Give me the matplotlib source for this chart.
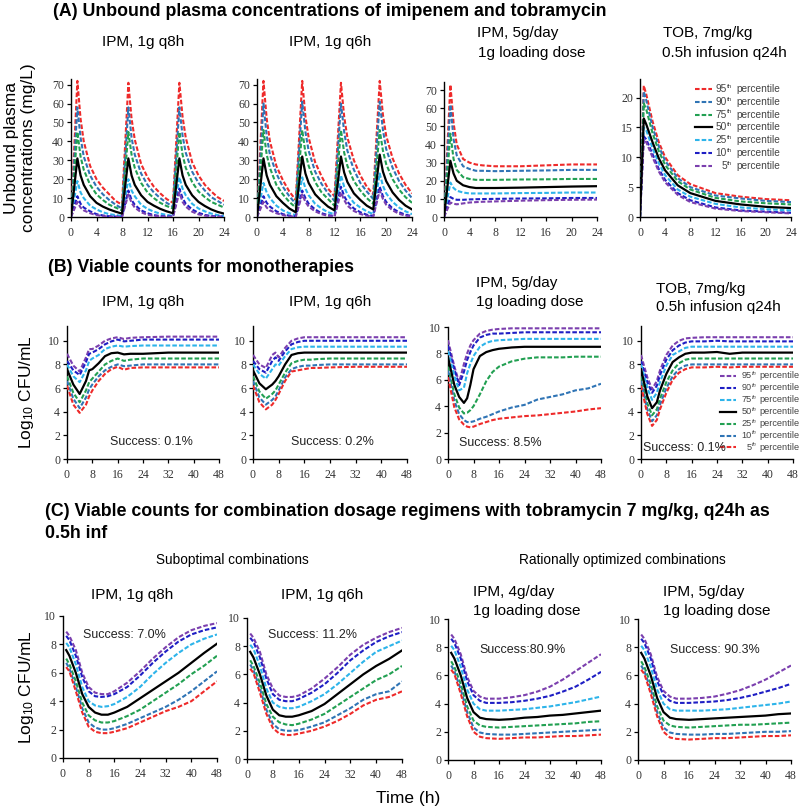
import numpy as np
import matplotlib
matplotlib.use('Agg')
import matplotlib.pyplot as plt
from matplotlib.lines import Line2D

plt.rcParams['font.family'] = ['Liberation Sans', 'DejaVu Sans']
plt.rcParams['mathtext.fontset'] = 'custom'
plt.rcParams['mathtext.rm'] = 'Liberation Sans'
plt.rcParams['mathtext.it'] = 'Liberation Sans:italic'

# ---------------- data ----------------
# (A) unbound plasma concentrations (mg/L), 95th ... 5th percentile
a1_t = [0, 1, 1.5, 2, 3, 4, 5, 6, 7,
        8, 9, 9.5, 10, 11, 12, 13, 14, 15,
        16, 17, 17.5, 18, 19, 20, 21, 22, 23, 24]
a1_p95 = [0, 72, 52, 40, 27, 20, 15.5, 12, 8.5,
          6.5, 71, 52, 41, 28, 21, 16, 12.5, 9.5,
          7.5, 71, 53, 42, 29, 22, 17, 13.5, 10.5, 8.5]
a1_p90 = [0, 58, 42, 32, 22, 16, 12, 9, 6.5,
          4.5, 58, 42, 33, 23, 17, 13, 10, 7.5,
          5.5, 58, 43, 34, 24, 18, 14, 10.5, 8.5, 6.5]
a1_p75 = [0, 45, 32, 25, 17, 12, 9, 6.5, 5,
          3.5, 45, 33, 26, 18, 13, 10, 7.5, 5.8,
          4.5, 45, 33, 26, 18.5, 13.5, 10.5, 8, 6.5, 5]
a1_p50 = [0, 31, 22, 17, 11, 7.5, 5.5, 4, 2.8,
          1.8, 31, 22, 17, 11.5, 8, 6, 4.3, 3,
          2, 31, 22, 17, 11.5, 8, 5.8, 4, 2.7, 1.8]
a1_p25 = [0, 19, 13, 10, 6, 4, 2.5, 1.5, 1,
          0.5, 20, 14, 11, 6.5, 4.3, 2.8, 1.8, 1.1,
          0.6, 21, 15, 11.5, 7, 4.5, 3, 1.8, 1, 0.5]
a1_p10 = [0, 11, 7, 5, 3, 1.5, 0.8, 0.4, 0.2,
          0.1, 14, 9, 6.5, 3.5, 2, 1, 0.5, 0.3,
          0.2, 15, 10, 7, 4, 2.2, 1.1, 0.5, 0.3, 0.2]
a1_p5 = [0, 8, 5, 3.5, 2, 1, 0.5, 0.2, 0.1,
         0, 12, 7.5, 5, 2.5, 1.2, 0.6, 0.3, 0.1,
         0.1, 13, 8, 5.5, 2.8, 1.4, 0.7, 0.3, 0.1, 0]

a2_t = [0, 1, 1.5, 2, 3, 4, 5,
        6, 7, 7.5, 8, 9, 10, 11,
        12, 13, 13.5, 14, 15, 16, 17,
        18, 19, 19.5, 20, 21, 22, 23, 24]
a2_p95 = [0, 72, 52, 40, 27, 19.5, 13.5,
          9, 72, 53, 42, 29, 21.5, 15,
          11, 71, 53, 42, 30, 22, 16,
          12, 72, 54, 43, 31, 23, 17, 12.5]
a2_p90 = [0, 60, 43, 33, 23, 16, 11,
          7, 61, 45, 35, 24, 17.5, 12.5,
          8.5, 60, 45, 35, 25, 18, 13.5,
          9.5, 61, 46, 36, 26, 19, 14, 10]
a2_p75 = [0, 46, 33, 26, 17, 12, 8,
          5, 46, 34, 27, 18.5, 13, 9.5,
          6, 46, 34, 27, 19, 14, 10,
          7, 46, 35, 28, 20, 14.5, 10.5, 7.5]
a2_p50 = [0, 31, 22, 17, 11, 7.5, 4.5,
          2.5, 32, 23, 18, 12, 8.5, 5.5,
          3.5, 32, 23.5, 18.5, 12.5, 9, 6,
          4, 33, 24, 19, 13, 9, 6, 4]
a2_p25 = [0, 18, 13, 10, 6, 3.5, 2,
          1, 21, 15, 11.5, 7, 4.5, 2.5,
          1.5, 22, 16, 12, 7.5, 5, 3,
          1.5, 23, 16.5, 12.5, 8, 5, 3, 1.5]
a2_p10 = [0, 11, 7.5, 5.5, 3, 1.5, 0.7,
          0.3, 14, 10, 7, 4, 2, 1,
          0.5, 16, 11, 8, 4.5, 2.5, 1.2,
          0.5, 16, 11, 8, 4.5, 2.5, 1.2, 0.5]
a2_p5 = [0, 8, 5, 3.5, 2, 1, 0.4,
         0.1, 12, 8, 5.5, 3, 1.5, 0.6,
         0.2, 13, 9, 6, 3.2, 1.6, 0.7,
         0.2, 14, 9.5, 6.5, 3.5, 1.7, 0.7, 0.2]

a3_t = [0, 1, 1.5, 2, 3, 4, 5, 6, 8, 12, 16, 20, 24]
a3_p95 = [0, 73, 52, 40, 32, 30, 29, 28.5, 28, 28, 28.5, 29, 29]
a3_p90 = [0, 62, 43, 34, 28, 26.5, 25.5, 25.5, 25.3, 25.5, 25.7, 26, 26]
a3_p75 = [0, 46, 32, 26, 22, 21, 20.5, 20.5, 20.5, 20.7, 20.8, 21, 21]
a3_p50 = [0, 31, 24, 20, 17.5, 16.5, 16, 16, 16, 16.2, 16.5, 16.8, 17]
a3_p25 = [0, 19, 16, 14.5, 13.5, 13, 13, 13, 13, 13.2, 13.3, 13.5, 13.5]
a3_p10 = [0, 11, 10, 9.5, 9.5, 9.7, 9.8, 9.9, 10, 10.2, 10.3, 10.5, 10.5]
a3_p5 = [0, 8, 7.3, 7, 7.5, 8, 8.2, 8.4, 8.6, 9, 9.3, 9.5, 9.6]

a4_t = [0, 0.6, 1, 2, 3, 4, 6, 8, 12, 16, 20, 24]
a4_p95 = [0, 22, 20.5, 16, 12.5, 10, 7, 5.5, 4, 3.4, 3.0, 2.8]
a4_p90 = [0, 21, 19.5, 15, 11.8, 9.4, 6.5, 5, 3.6, 3.1, 2.7, 2.5]
a4_p75 = [0, 19, 18, 14, 11, 8.7, 6, 4.6, 3.2, 2.6, 2.3, 2.1]
a4_p50 = [0, 16.5, 15.5, 12.5, 9.8, 7.8, 5.3, 4, 2.7, 2.1, 1.7, 1.5]
a4_p25 = [0, 15, 14.5, 11.5, 9, 7, 4.6, 3.4, 2.2, 1.6, 1.3, 1.1]
a4_p10 = [0, 13.5, 13, 10.5, 8, 6.2, 4, 2.8, 1.6, 1.1, 0.9, 0.7]
a4_p5 = [0, 13, 12.5, 10, 7.6, 5.8, 3.7, 2.5, 1.4, 1.0, 0.8, 0.6]

# (B) viable counts for monotherapies (log10 CFU/mL)
b1_t = [0, 2, 4, 6, 7, 8, 10, 12, 14, 16, 18, 20, 24, 32, 40, 48]
b1_p95 = [8.9, 7.9, 7.4, 8.6, 9.3, 9.3, 9.6, 10.0, 10.2, 10.3, 10.15, 10.25, 10.3, 10.35, 10.35, 10.35]
b1_p90 = [8.3, 7.5, 7.1, 8.2, 8.9, 9.0, 9.3, 9.7, 9.95, 10.1, 9.95, 10.0, 10.1, 10.1, 10.1, 10.1]
b1_p75 = [8.0, 7.0, 6.5, 7.5, 8.3, 8.5, 8.8, 9.3, 9.5, 9.6, 9.5, 9.55, 9.6, 9.6, 9.6, 9.6]
b1_p50 = [7.6, 6.3, 5.5, 6.6, 7.5, 7.6, 8.1, 8.7, 8.95, 9.0, 8.85, 8.9, 8.9, 9.0, 9.0, 9.0]
b1_p25 = [7.0, 5.6, 4.8, 5.8, 6.5, 6.8, 7.4, 8.0, 8.3, 8.5, 8.3, 8.4, 8.5, 8.5, 8.5, 8.5]
b1_p10 = [6.6, 5.1, 4.3, 5.2, 5.9, 6.3, 7.0, 7.5, 7.8, 8.0, 7.85, 7.9, 8.0, 8.0, 8.0, 8.0]
b1_p5 = [6.2, 4.6, 3.9, 4.6, 5.3, 5.8, 6.6, 7.2, 7.6, 7.8, 7.55, 7.7, 7.75, 7.75, 7.75, 7.75]

b2_t = [0, 2, 4, 6, 7, 8, 10, 12, 14, 16, 18, 20, 24, 32, 40, 48]
b2_p95 = [8.8, 8.0, 7.7, 8.8, 9.0, 8.6, 9.4, 10.0, 10.2, 10.3, 10.3, 10.3, 10.3, 10.3, 10.3, 10.3]
b2_p90 = [8.3, 7.6, 7.3, 8.3, 8.6, 8.3, 9.1, 9.7, 9.9, 10.0, 10.0, 10.0, 10.0, 10.0, 10.0, 10.0]
b2_p75 = [8.0, 7.2, 6.8, 7.6, 8.0, 7.9, 8.7, 9.3, 9.45, 9.5, 9.5, 9.5, 9.5, 9.5, 9.5, 9.5]
b2_p50 = [7.5, 6.4, 5.9, 6.3, 6.6, 7.0, 8.0, 8.8, 8.95, 9.0, 9.0, 9.0, 9.0, 9.0, 9.0, 9.0]
b2_p25 = [7.0, 5.7, 5.1, 5.5, 5.8, 6.3, 7.3, 8.1, 8.3, 8.4, 8.4, 8.45, 8.5, 8.5, 8.5, 8.5]
b2_p10 = [6.6, 5.2, 4.6, 5.0, 5.3, 5.8, 6.9, 7.6, 7.8, 7.9, 7.9, 7.95, 8.0, 8.0, 8.0, 8.0]
b2_p5 = [6.2, 4.8, 4.2, 4.6, 5.0, 5.5, 6.6, 7.4, 7.5, 7.6, 7.7, 7.7, 7.75, 7.8, 7.8, 7.8]

b3_t = [0, 2, 3.5, 5, 6, 7, 8, 10, 12, 14, 16, 20, 24, 28, 32, 36, 40, 44, 48]
b3_p95 = [9.0, 7.0, 5.8, 7.2, 8.0, 8.6, 9.0, 9.5, 9.7, 9.8, 9.85, 9.9, 9.9, 9.9, 9.9, 9.9, 9.9, 9.9, 9.9]
b3_p90 = [8.6, 6.8, 5.6, 6.6, 7.5, 8.1, 8.6, 9.2, 9.4, 9.5, 9.5, 9.55, 9.6, 9.6, 9.6, 9.6, 9.6, 9.6, 9.6]
b3_p75 = [8.2, 6.3, 5.2, 5.4, 6.5, 7.2, 7.8, 8.5, 8.8, 8.95, 9.0, 9.05, 9.1, 9.1, 9.1, 9.1, 9.1, 9.1, 9.1]
b3_p50 = [7.7, 5.6, 4.7, 4.25, 4.6, 5.6, 6.8, 7.8, 8.1, 8.25, 8.35, 8.45, 8.5, 8.5, 8.5, 8.5, 8.5, 8.5, 8.5]
b3_p25 = [7.0, 4.9, 3.9, 3.45, 3.5, 3.7, 4.0, 4.9, 5.9, 6.6, 7.0, 7.4, 7.6, 7.7, 7.7, 7.7, 7.75, 7.75, 7.75]
b3_p10 = [6.7, 4.4, 3.4, 2.95, 2.8, 2.8, 2.85, 3.05, 3.2, 3.4, 3.6, 3.9, 4.1, 4.5, 4.7, 4.9, 5.2, 5.35, 5.7]
b3_p5 = [6.2, 3.9, 3.0, 2.6, 2.45, 2.4, 2.45, 2.65, 2.8, 2.95, 3.05, 3.15, 3.25, 3.3, 3.4, 3.5, 3.6, 3.75, 3.85]

b4_t = [0, 2, 3.5, 5, 6, 8, 10, 12, 14, 16, 20, 24, 28, 32, 40, 48]
b4_p95 = [8.8, 6.9, 5.9, 6.6, 7.5, 8.8, 9.6, 10.0, 10.2, 10.25, 10.3, 10.3, 10.3, 10.3, 10.3, 10.3]
b4_p90 = [8.3, 6.5, 5.6, 6.2, 7.1, 8.4, 9.2, 9.6, 9.85, 9.95, 9.95, 10.0, 9.95, 9.95, 9.95, 9.95]
b4_p75 = [8.0, 6.0, 5.0, 5.6, 6.5, 7.9, 8.8, 9.1, 9.4, 9.5, 9.5, 9.5, 9.5, 9.5, 9.5, 9.5]
b4_p50 = [7.6, 5.3, 4.3, 4.8, 5.8, 7.2, 8.2, 8.6, 8.9, 9.0, 9.0, 9.05, 8.9, 9.0, 9.0, 9.0]
b4_p25 = [7.0, 4.7, 3.7, 4.2, 5.1, 6.5, 7.5, 8.1, 8.4, 8.5, 8.5, 8.5, 8.5, 8.5, 8.5, 8.5]
b4_p10 = [6.6, 4.2, 3.2, 3.7, 4.6, 6.0, 7.0, 7.6, 7.9, 8.0, 8.0, 8.0, 8.0, 8.0, 8.0, 8.0]
b4_p5 = [6.2, 3.8, 2.8, 3.3, 4.2, 5.6, 6.7, 7.3, 7.6, 7.75, 7.75, 7.8, 7.75, 7.8, 7.8, 7.8]

# (C) viable counts for combinations (log10 CFU/mL)
c1_t = [1, 2, 4, 6, 8, 10, 12, 14, 16, 20, 24, 28, 32, 36, 40, 44, 48]
c1_p95 = [8.9, 8.6, 7.6, 6.0, 5.0, 4.6, 4.5, 4.5, 4.7, 5.3, 6.1, 7.0, 7.8, 8.5, 9.0, 9.3, 9.5]
c1_p90 = [8.6, 8.3, 7.2, 5.7, 4.7, 4.35, 4.3, 4.35, 4.5, 5.0, 5.8, 6.7, 7.5, 8.2, 8.7, 9.0, 9.2]
c1_p75 = [8.1, 7.8, 6.6, 5.0, 4.0, 3.7, 3.6, 3.65, 3.8, 4.3, 5.0, 5.9, 6.7, 7.4, 8.0, 8.4, 8.7]
c1_p50 = [7.6, 7.2, 6.0, 4.5, 3.6, 3.2, 3.05, 3.05, 3.2, 3.6, 4.2, 4.8, 5.4, 6.0, 6.7, 7.4, 8.05]
c1_p25 = [7.0, 6.6, 5.4, 3.9, 3.0, 2.65, 2.5, 2.5, 2.6, 2.95, 3.4, 4.0, 4.6, 5.2, 5.9, 6.5, 7.2]
c1_p10 = [6.7, 6.3, 5.0, 3.5, 2.5, 2.15, 2.0, 2.0, 2.1, 2.4, 2.8, 3.2, 3.6, 4.1, 4.7, 5.4, 6.1]
c1_p5 = [6.4, 6.1, 4.7, 3.2, 2.2, 1.85, 1.75, 1.75, 1.85, 2.1, 2.5, 2.9, 3.3, 3.6, 4.0, 4.7, 5.4]

c2_t = [1, 2, 4, 6, 8, 10, 12, 14, 16, 20, 24, 28, 32, 36, 40, 44, 48]
c2_p95 = [8.9, 8.6, 7.6, 6.0, 5.0, 4.5, 4.4, 4.4, 4.5, 5.0, 5.7, 6.5, 7.4, 8.1, 8.6, 9.0, 9.3]
c2_p90 = [8.6, 8.3, 7.2, 5.7, 4.6, 4.2, 4.1, 4.1, 4.25, 4.7, 5.3, 6.1, 7.0, 7.7, 8.3, 8.7, 9.0]
c2_p75 = [8.1, 7.8, 6.6, 5.0, 4.0, 3.7, 3.6, 3.6, 3.7, 4.1, 4.6, 5.3, 6.1, 6.9, 7.6, 8.0, 8.4]
c2_p50 = [7.6, 7.2, 6.0, 4.5, 3.5, 3.1, 3.0, 3.0, 3.1, 3.4, 3.9, 4.6, 5.3, 6.0, 6.6, 7.1, 7.7]
c2_p25 = [7.0, 6.6, 5.4, 3.9, 3.0, 2.6, 2.45, 2.4, 2.5, 2.8, 3.2, 3.8, 4.4, 5.0, 5.6, 6.0, 6.6]
c2_p10 = [6.7, 6.3, 5.0, 3.5, 2.5, 2.1, 2.0, 2.0, 2.05, 2.3, 2.6, 3.1, 3.6, 4.2, 4.6, 4.8, 5.5]
c2_p5 = [6.4, 6.1, 4.7, 3.2, 2.2, 1.8, 1.7, 1.7, 1.8, 2.0, 2.3, 2.7, 3.2, 3.8, 4.2, 4.4, 4.8]

c3_t = [1, 2, 4, 6, 8, 10, 12, 16, 20, 24, 28, 32, 36, 40, 44, 48]
c3_p95 = [8.9, 8.6, 7.5, 5.9, 4.9, 4.5, 4.35, 4.35, 4.45, 4.6, 4.85, 5.2, 5.7, 6.3, 6.9, 7.5]
c3_p90 = [8.6, 8.3, 7.2, 5.6, 4.6, 4.2, 4.05, 4.05, 4.1, 4.2, 4.35, 4.55, 4.85, 5.2, 5.7, 6.25]
c3_p75 = [8.1, 7.8, 6.6, 5.0, 4.0, 3.6, 3.5, 3.5, 3.55, 3.6, 3.7, 3.8, 3.95, 4.1, 4.3, 4.5]
c3_p50 = [7.6, 7.2, 6.0, 4.4, 3.4, 3.0, 2.9, 2.85, 2.9, 3.0, 3.05, 3.15, 3.2, 3.3, 3.4, 3.5]
c3_p25 = [7.0, 6.6, 5.4, 3.8, 2.8, 2.45, 2.35, 2.3, 2.35, 2.4, 2.45, 2.5, 2.55, 2.6, 2.7, 2.75]
c3_p10 = [6.7, 6.3, 5.0, 3.4, 2.3, 1.95, 1.85, 1.8, 1.8, 1.85, 1.9, 1.95, 2.0, 2.05, 2.1, 2.15]
c3_p5 = [6.4, 6.1, 4.7, 3.1, 2.0, 1.65, 1.55, 1.5, 1.55, 1.6, 1.6, 1.65, 1.7, 1.7, 1.75, 1.8]

c4_t = [1, 2, 4, 6, 8, 10, 12, 16, 20, 24, 28, 32, 36, 40, 44, 48]
c4_p95 = [8.9, 8.6, 7.5, 5.9, 4.9, 4.5, 4.35, 4.35, 4.4, 4.5, 4.7, 4.95, 5.3, 5.7, 6.2, 6.7]
c4_p90 = [8.6, 8.3, 7.2, 5.6, 4.6, 4.2, 4.05, 4.05, 4.1, 4.15, 4.25, 4.4, 4.6, 4.85, 5.1, 5.4]
c4_p75 = [8.1, 7.8, 6.6, 5.0, 4.0, 3.6, 3.5, 3.5, 3.5, 3.55, 3.6, 3.7, 3.8, 3.9, 4.0, 4.15]
c4_p50 = [7.6, 7.2, 6.0, 4.4, 3.4, 3.0, 2.9, 2.85, 2.9, 2.95, 3.0, 3.05, 3.1, 3.15, 3.25, 3.3]
c4_p25 = [7.0, 6.6, 5.4, 3.8, 2.8, 2.45, 2.35, 2.3, 2.35, 2.4, 2.45, 2.5, 2.5, 2.55, 2.6, 2.65]
c4_p10 = [6.7, 6.3, 5.0, 3.4, 2.3, 1.95, 1.85, 1.8, 1.8, 1.85, 1.85, 1.9, 1.95, 2.0, 2.0, 2.05]
c4_p5 = [6.4, 6.1, 4.7, 3.1, 2.0, 1.6, 1.5, 1.45, 1.5, 1.55, 1.55, 1.6, 1.65, 1.7, 1.7, 1.75]

percentiles = ['95', '90', '75', '50', '25', '10', '5']
success_b = ['Success: 0.1%', 'Success: 0.2%', 'Success: 8.5%', 'Success: 0.1%']
success_c = ['Success: 7.0%', 'Success: 11.2%', 'Success:80.9%', 'Success: 90.3%']

# ---------------- styling ----------------
RED = '#EE2A2A'
MIDBLUE = '#2F74B5'
GREEN = '#22A052'
CYAN = '#2DB4EA'
DKBLUE = '#1E1EC4'
PURPLE = '#7B3FAE'
colors_a = [RED, MIDBLUE, GREEN, 'black', CYAN, DKBLUE, PURPLE]
colors_bc = [PURPLE, DKBLUE, CYAN, 'black', GREEN, MIDBLUE, RED]
DASH = (2.2, 1.0)

W, H = 800, 811
fig = plt.figure(figsize=(W / 100, H / 100), dpi=100)


def px_axes(l, r, top, bottom):
    # axes rectangle given in pixel coordinates of the reference
    return fig.add_axes([l / W, 1 - bottom / H, (r - l) / W, (bottom - top) / H])


def ftext(x, y, s, **kw):
    kw.setdefault('va', 'center')
    fig.text(x / W, 1 - y / H, s, **kw)


def panel(ax, t, series, colors, xmax, xstep, ylim, ystep):
    for vals, col in zip(series, colors):
        if col == 'black':
            ax.plot(t, vals, color='black', lw=1.6, zorder=4)
        else:
            ax.plot(t, vals, color=col, lw=1.5, dashes=DASH, zorder=3)
    ax.set_xlim(0, xmax)
    ax.set_ylim(*ylim)
    ax.set_xticks(np.arange(0, xmax + 0.1, xstep))
    ax.set_yticks(np.arange(0, ylim[1] + 0.01, ystep))
    for s in ['top', 'right']:
        ax.spines[s].set_visible(False)
    for s in ['left', 'bottom']:
        ax.spines[s].set_linewidth(1.0)
    ax.tick_params(direction='out', length=3, width=0.9, labelsize=8.5,
                   labelcolor='#333333', pad=2, labelfontfamily='Liberation Serif')
    ax.tick_params(axis='x', pad=4)


def pct_legend(colors, italic_sup, x_h0, x_h1, x_num, x_word, y0, dy, size):
    # hand-placed legend: line sample, number, raised "th", then "percentile"
    for i, (p, col) in enumerate(zip(percentiles, colors)):
        y = y0 + i * dy
        yf = 1 - y / H
        if col == 'black':
            ln = Line2D([x_h0 / W, x_h1 / W], [yf, yf], color='black', lw=1.6,
                        transform=fig.transFigure)
        else:
            ln = Line2D([x_h0 / W, x_h1 / W], [yf, yf], color=col, lw=1.5, dashes=DASH,
                        transform=fig.transFigure)
        fig.add_artist(ln)
        ftext(x_num, y, p, ha='right', fontsize=size, color='#444444')
        ftext(x_num - 0.6, y - size * 0.38, 'th', ha='left', fontsize=size * 0.62,
              color='#444444', style='italic' if italic_sup else 'normal')
        ftext(x_word, y, 'percentile', ha='left', fontsize=size, color='#444444')


# ---- row A ----
a_data = [
    (a1_t, [a1_p95, a1_p90, a1_p75, a1_p50, a1_p25, a1_p10, a1_p5]),
    (a2_t, [a2_p95, a2_p90, a2_p75, a2_p50, a2_p25, a2_p10, a2_p5]),
    (a3_t, [a3_p95, a3_p90, a3_p75, a3_p50, a3_p25, a3_p10, a3_p5]),
    (a4_t, [a4_p95, a4_p90, a4_p75, a4_p50, a4_p25, a4_p10, a4_p5]),
]
a_rects = [(71, 224, 79, 217), (257, 412, 79, 217), (444, 597, 82, 217), (640, 791, 79, 217)]
a_ylims = [(0, 73), (0, 73), (0, 74.5), (0, 23.1)]
a_ysteps = [10, 10, 10, 5]
for i in range(4):
    ax = px_axes(*a_rects[i])
    panel(ax, a_data[i][0], a_data[i][1], colors_a, 24, 4, a_ylims[i], a_ysteps[i])
pct_legend(colors_a, False, 695, 712, 727, 736, 89, 12.8, 7.3)

# ---- row B ----
b_data = [
    (b1_t, [b1_p95, b1_p90, b1_p75, b1_p50, b1_p25, b1_p10, b1_p5]),
    (b2_t, [b2_p95, b2_p90, b2_p75, b2_p50, b2_p25, b2_p10, b2_p5]),
    (b3_t, [b3_p95, b3_p90, b3_p75, b3_p50, b3_p25, b3_p10, b3_p5]),
    (b4_t, [b4_p95, b4_p90, b4_p75, b4_p50, b4_p25, b4_p10, b4_p5]),
]
b_rects = [(67, 219, 326, 459), (253, 407, 326, 459), (448, 601, 327, 459), (641, 793, 326, 459)]
b_ylims = [(0, 11.25), (0, 11.25), (0, 10), (0, 11.25)]
b_success_xy = [(151, 442, 'center'), (332, 442, 'center'), (459, 443, 'left'), (643, 448, 'left')]
for i in range(4):
    ax = px_axes(*b_rects[i])
    panel(ax, b_data[i][0], b_data[i][1], colors_bc, 48, 8, b_ylims[i], 2)
    x, y, ha = b_success_xy[i]
    ftext(x, y, success_b[i], ha=ha, fontsize=9, color='#222222')
pct_legend(colors_bc, True, 720, 736, 752, 759, 376, 11.9, 6.6)

# ---- row C ----
c_data = [
    (c1_t, [c1_p95, c1_p90, c1_p75, c1_p50, c1_p25, c1_p10, c1_p5]),
    (c2_t, [c2_p95, c2_p90, c2_p75, c2_p50, c2_p25, c2_p10, c2_p5]),
    (c3_t, [c3_p95, c3_p90, c3_p75, c3_p50, c3_p25, c3_p10, c3_p5]),
    (c4_t, [c4_p95, c4_p90, c4_p75, c4_p50, c4_p25, c4_p10, c4_p5]),
]
c_rects = [(63, 217, 616, 758), (247, 402, 618, 759), (448, 601, 619, 760), (638, 791, 619, 760)]
c_success_xy = [(83, 635), (268, 635), (479, 650), (670, 650)]
for i in range(4):
    ax = px_axes(*c_rects[i])
    panel(ax, c_data[i][0], c_data[i][1], colors_bc, 48, 8, (0, 10), 2)
    x, y = c_success_xy[i]
    ftext(x, y, success_c[i], ha='left', fontsize=9, color='#222222')

# ---------------- titles and labels ----------------
ftext(53, 12, '(A) Unbound plasma concentrations of imipenem and tobramycin',
      fontsize=12.8, fontweight='bold')
ftext(48, 267, '(B) Viable counts for monotherapies', fontsize=12.8, fontweight='bold')
ftext(45, 512, '(C) Viable counts for combination dosage regimens with tobramycin 7 mg/kg, q24h as',
      fontsize=12.8, fontweight='bold')
ftext(45, 533, '0.5h inf', fontsize=12.8, fontweight='bold')

TS = 11
ftext(143, 42, 'IPM, 1g q8h', ha='center', fontsize=TS)
ftext(330, 42, 'IPM, 1g q6h', ha='center', fontsize=TS)
ftext(477, 33, 'IPM, 5g/day', ha='left', fontsize=TS)
ftext(478, 53, '1g loading dose', ha='left', fontsize=TS)
ftext(663, 33, 'TOB, 7mg/kg', ha='left', fontsize=TS)
ftext(662, 53, '0.5h infusion q24h', ha='left', fontsize=TS)

ftext(143, 302, 'IPM, 1g q8h', ha='center', fontsize=TS)
ftext(330, 302, 'IPM, 1g q6h', ha='center', fontsize=TS)
ftext(476, 283, 'IPM, 5g/day', ha='left', fontsize=TS)
ftext(476, 302, '1g loading dose', ha='left', fontsize=TS)
ftext(656, 289, 'TOB, 7mg/kg', ha='left', fontsize=TS)
ftext(656, 307, '0.5h infusion q24h', ha='left', fontsize=TS)

ftext(232, 560, 'Suboptimal combinations', ha='center', fontsize=9.8)
ftext(622, 560, 'Rationally optimized combinations', ha='center', fontsize=9.8)
ftext(132, 595, 'IPM, 1g q8h', ha='center', fontsize=TS)
ftext(322, 595, 'IPM, 1g q6h', ha='center', fontsize=TS)
ftext(473, 592, 'IPM, 4g/day', ha='left', fontsize=TS)
ftext(473, 611, '1g loading dose', ha='left', fontsize=TS)
ftext(663, 592, 'IPM, 5g/day', ha='left', fontsize=TS)
ftext(663, 611, '1g loading dose', ha='left', fontsize=TS)

ftext(12, 148, 'Unbound plasma', ha='center', rotation=90, fontsize=12.5)
ftext(29, 148, 'concentrations (mg/L)', ha='center', rotation=90, fontsize=12.5)
ftext(26, 392, 'Log$_{\\mathrm{10}}$ CFU/mL', ha='center', rotation=90, fontsize=12.5)
ftext(26, 687, 'Log$_{\\mathrm{10}}$ CFU/mL', ha='center', rotation=90, fontsize=12.5)
ftext(408, 798, 'Time (h)', ha='center', fontsize=12.5)

fig.savefig('out.png', dpi=100)
